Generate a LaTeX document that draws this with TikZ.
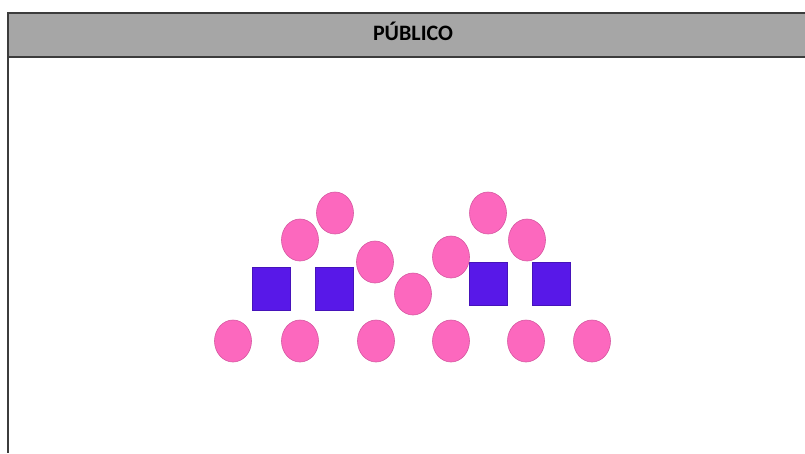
\documentclass[tikz,border=0pt]{standalone}
\usepackage{fontspec}
\setsansfont{Carlito}
\usetikzlibrary{shapes.geometric}
\usetikzlibrary{positioning}

\definecolor{headgray}{RGB}{166,166,166}
\definecolor{framegray}{RGB}{60,60,60}
\definecolor{seatpink}{RGB}{252,104,190}
\definecolor{standpurple}{RGB}{88,24,232}

\begin{document}
\begin{tikzpicture}[x=1pt, y=-1pt,
    seat/.style={ellipse, draw=seatpink!85!black, line width=0.6pt, fill=seatpink, minimum width=37pt, minimum height=42pt, inner sep=0pt},
    stand/.style={rectangle, draw=standpurple!80!black, line width=0.5pt, fill=standpurple, minimum width=38pt, minimum height=43pt, inner sep=0pt},
    frame/.style={draw=framegray, line width=2pt}]

        \useasboundingbox (0,0) rectangle (805,453);

        % Header band
        \fill[headgray] (8,13) rectangle (805,57);
        \draw[frame] (805,13) -- (8,13) -- (8,453);
        \draw[frame] (8,57) -- (805,57);
        \node[anchor=base, inner sep=0pt, font=\sffamily\bfseries\fontsize{22}{24}\selectfont] (title) at (413,40) {PÚBLICO};

        % Bottom row of seats
        \foreach \x [count=\i] in {233,300,376,451,526,592} {
          \node[seat] (b\i) at (\x, 341) {};
        }

        % Purple stands
        \node[stand] (s1) at (271.5, 289) {};
        \node[stand] (s2) at (334, 289) {};
        \node[stand] (s3) at (488, 284) {};
        \node[stand] (s4) at (551, 284) {};

        % Upper seats
        \foreach \x/\y [count=\i] in {300/240, 335/213, 375/262, 413/294, 451/257, 488/213, 527/240} {
          \node[seat] (u\i) at (\x, \y) {};
        }

\end{tikzpicture}
\end{document}
